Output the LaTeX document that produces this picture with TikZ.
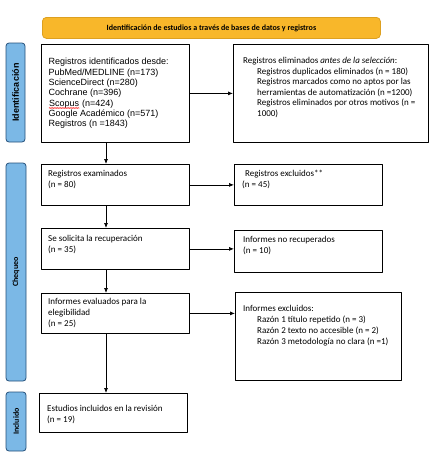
\documentclass[tikz,border=0pt]{standalone}
\usepackage{fontspec}
\setmainfont{Carlito}
\newfontfamily\arialfont{Liberation Sans}
\usetikzlibrary{arrows.meta,decorations.pathmorphing}
\newcommand\spellwave[1]{\tikz[baseline=(w.base)]{\node[inner sep=0pt,anchor=base west] (w) at (0,0) {#1};
  \draw[red,line width=0.5pt,decorate,decoration={snake,amplitude=0.45pt,segment length=1.6pt}]
    ([yshift=-2pt]w.base west) -- ([yshift=-2pt]w.base east);}}
\definecolor{bannerfill}{HTML}{F8B72A}
\definecolor{bannerdraw}{HTML}{DDA020}
\definecolor{phasefill}{HTML}{7BB8E6}
\definecolor{phasedraw}{HTML}{25507A}

\begin{document}
\begin{tikzpicture}[x=1pt,y=-1pt,line cap=round,line join=round,>={Latex[length=5pt,width=4pt]}]
  \tikzset{
    boxline/.style={draw,line width=0.8pt,anchor=north west,inner sep=0pt},
    boxtext/.style={anchor=north west,inner sep=0pt,align=left,font=\fontsize{9}{11}\selectfont},
    phase/.style={draw=phasedraw,fill=phasefill,line width=0.8pt,rounded corners=3pt,inner sep=0pt,font=\bfseries\fontsize{8}{10}\selectfont},
    flowarrow/.style={->,line width=0.7pt},
  }
  \useasboundingbox (0,0) rectangle (436,464);

  % ==================== banner ====================
  \node[draw=bannerdraw,fill=bannerfill,rounded corners=4pt,line width=0.8pt,anchor=north west,inner sep=0pt,
        minimum width=338,minimum height=21,font=\bfseries\fontsize{8}{10}\selectfont] (banner) at (42,17)
        {Identificación de estudios a través de bases de datos y registros};

  % ==================== phases ====================
  \node[phase,rotate=90,minimum width=99,minimum height=19,font=\arialfont\bfseries\fontsize{9}{10}\selectfont] (phaseid) at (15.5,92.5) {Identificación};
  \node[phase,rotate=90,minimum width=218,minimum height=20] (phasecheck) at (16,272) {Chequeo};
  \node[phase,rotate=90,minimum width=59,minimum height=20] (phaseincl) at (16,421.5) {Incluido};

  % ==================== boxes ====================
  \node[boxline,minimum width=148,minimum height=98] (idsrc) at (41,44) {};
  \node[boxline,minimum width=195,minimum height=98] (idrem) at (233,44) {};
  \node[boxline,minimum width=148,minimum height=41] (exam) at (41,164) {};
  \node[boxline,minimum width=148,minimum height=41] (exclu) at (234,164) {};
  \node[boxline,minimum width=148,minimum height=41] (retr) at (41,228) {};
  \node[boxline,minimum width=148,minimum height=42] (notret) at (234,230) {};
  \node[boxline,minimum width=148,minimum height=40] (elig) at (41,293) {};
  \node[boxline,minimum width=166,minimum height=88] (elexc) at (235,292) {};
  \node[boxline,minimum width=148,minimum height=39] (incl) at (39,393) {};

  % ==================== texts ====================
  \node[boxtext,anchor=west,font=\arialfont\fontsize{9}{10.3}\selectfont] (idsrctext) at ([xshift=7.5]idsrc.west)
    {Registros identificados desde:\\PubMed/MEDLINE (n=173)\\ScienceDirect (n=280)\\Cochrane (n=396)\\
     \spellwave{Scopus} (n=424)\\Google Académico (n=571)\\Registros (n =1843)};
  \node[boxtext,font=\fontsize{9}{10.6}\selectfont] (idremtext) at ([shift={(10,13)}]idrem.north west)
    {Registros eliminados \textit{antes de la selección}:\\
     \hspace*{14pt}Registros duplicados eliminados (n = 180)\\
     \hspace*{14pt}Registros marcados como no aptos por las\\
     \hspace*{14pt}herramientas de automatización (n =1200)\\
     \hspace*{14pt}Registros eliminados por otros motivos (n =\\
     \hspace*{14pt}1000)};
  \node[boxtext] (examtext) at ([shift={(7,6)}]exam.north west) {Registros examinados\\(n = 80)};
  \node[boxtext] (exclutext) at ([shift={(8,6)}]exclu.north west) {\hspace*{3pt}Registros excluidos**\\(n = 45)};
  \node[boxtext] (retrtext) at ([shift={(7,7)}]retr.north west) {Se solicita la recuperación\\(n = 35)};
  \node[boxtext] (notrettext) at ([shift={(9,6)}]notret.north west) {Informes no recuperados\\(n = 10)};
  \node[boxtext] (eligtext) at ([shift={(7,5)}]elig.north west) {Informes evaluados para la\\elegibilidad\\(n = 25)};
  \node[boxtext] (elexctext) at ([shift={(8,13)}]elexc.north west)
    {Informes excluidos:\\
     \hspace*{14pt}Razón 1 título repetido (n = 3)\\
     \hspace*{14pt}Razón 2 texto no accesible (n = 2)\\
     \hspace*{14pt}Razón 3 metodología no clara (n =1)};
  \node[boxtext] (incltext) at ([shift={(8,12)}]incl.north west) {Estudios incluidos en la revisión\\(n = 19)};

  % ==================== arrows ====================
  \coordinate (spine) at (106,0);
  \draw[flowarrow] (idsrc.south -| spine) -- (exam.north -| spine);
  \draw[flowarrow] (exam.south -| spine) -- (retr.north -| spine);
  \draw[flowarrow] (retr.south -| spine) -- (elig.north -| spine);
  \draw[flowarrow] (elig.south -| spine) -- (incl.north -| spine);

  \draw[flowarrow] (idsrc.east) -- (idsrc.east -| idrem.west);
  \draw[flowarrow] (exam.east) -- (exam.east -| exclu.west);
  \draw[flowarrow] (retr.east) -- (retr.east -| notret.west);
  \draw[flowarrow] (elig.east) -- (elig.east -| elexc.west);
\end{tikzpicture}
\end{document}
